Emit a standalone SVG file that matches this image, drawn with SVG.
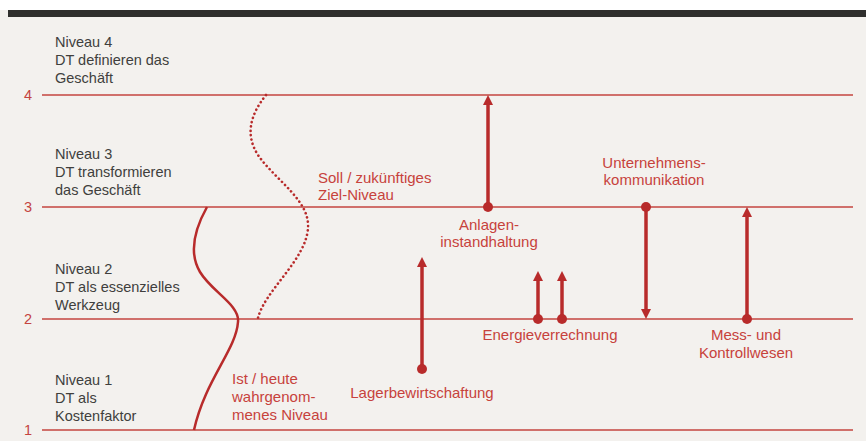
<svg xmlns="http://www.w3.org/2000/svg" width="866" height="441" viewBox="0 0 866 441">
<defs>
<style>
.lvl{stroke:#c4443f;stroke-width:1.5;fill:none}
.num{font-family:"Liberation Sans",Arial,sans-serif;font-size:14.5px;fill:#c4443f}
.lab{font-family:"Liberation Sans",Arial,sans-serif;font-size:14.5px;fill:#403f3d}
.red{font-family:"Liberation Sans",Arial,sans-serif;font-size:15px;fill:#c7423c}
.arr{stroke:#b82b2b;stroke-width:3.5;fill:none}
.dot{fill:#b82b2b}
.mid{text-anchor:middle}
</style>
<marker id="ah" markerUnits="userSpaceOnUse" markerWidth="10" markerHeight="10" refX="0" refY="5" orient="auto" viewBox="0 0 10 10">
<path d="M0,0 L10,5 L0,10 z" fill="#b82b2b"/>
</marker>
</defs>
<rect x="0" y="0" width="866" height="441" fill="#f3f1ee"/>
<rect x="0" y="0" width="866" height="10" fill="#ffffff"/>
<rect x="8" y="10" width="858" height="7" fill="#2f2f2d"/>

<g id="levels">
<line class="lvl" x1="42" y1="95" x2="853" y2="95"/>
<line class="lvl" x1="42" y1="207" x2="853" y2="207"/>
<line class="lvl" x1="42" y1="319" x2="853" y2="319"/>
<line class="lvl" x1="42" y1="430" x2="853" y2="430"/>
<text class="num" x="24" y="100">4</text>
<text class="num" x="24" y="212">3</text>
<text class="num" x="24" y="324">2</text>
<text class="num" x="24" y="435">1</text>
</g>

<g id="niveau4"><text class="lab" x="55" y="47">Niveau 4</text><text class="lab" x="55" y="65">DT definieren das</text><text class="lab" x="55" y="83">Geschäft</text></g>
<g id="niveau3"><text class="lab" x="55" y="159">Niveau 3</text><text class="lab" x="55" y="177">DT transformieren</text><text class="lab" x="55" y="195">das Geschäft</text></g>
<g id="niveau2"><text class="lab" x="55" y="274">Niveau 2</text><text class="lab" x="55" y="292">DT als essenzielles</text><text class="lab" x="55" y="310">Werkzeug</text></g>
<g id="niveau1"><text class="lab" x="55" y="385">Niveau 1</text><text class="lab" x="55" y="403">DT als</text><text class="lab" x="55" y="421">Kostenfaktor</text></g>

<g id="ist">
<path d="M207,207 C193,232 190,255 200,272 C212,292 240,305 238,322 C236,350 205,380 194,430" stroke="#b82b2b" stroke-width="2.5" fill="none"/>
<text class="red" x="232" y="384">Ist / heute</text><text class="red" x="232" y="402">wahrgenom-</text><text class="red" x="232" y="420">menes Niveau</text>
</g>

<g id="soll">
<path d="M266,95 C250,115 245,135 258,155 C275,180 310,200 308,228 C306,260 265,290 258,318" stroke="#b82b2b" stroke-width="2.6" fill="none" stroke-dasharray="0.1 4.3" stroke-linecap="round"/>
<text class="red" x="318" y="183">Soll / zukünftiges</text><text class="red" x="318" y="200">Ziel-Niveau</text>
</g>

<g id="connectors">
<line class="arr" x1="488" y1="207" x2="488" y2="105" marker-end="url(#ah)"/>
<line class="arr" x1="422" y1="369" x2="422" y2="267" marker-end="url(#ah)"/>
<line class="arr" x1="538" y1="319" x2="538" y2="281" marker-end="url(#ah)"/>
<line class="arr" x1="562" y1="319" x2="562" y2="281" marker-end="url(#ah)"/>
<line class="arr" x1="646" y1="207" x2="646" y2="309" marker-end="url(#ah)"/>
<line class="arr" x1="747" y1="319" x2="747" y2="217" marker-end="url(#ah)"/>
</g>

<g id="anlagen"><circle class="dot" cx="488" cy="207" r="5"/><text class="red mid" x="489" y="230">Anlagen-</text><text class="red mid" x="489" y="247">instandhaltung</text></g>
<g id="lager"><circle class="dot" cx="422" cy="369" r="5"/><text class="red mid" x="422" y="398">Lagerbewirtschaftung</text></g>
<g id="energie"><circle class="dot" cx="538" cy="319" r="5"/><circle class="dot" cx="562" cy="319" r="5"/><text class="red mid" x="550" y="340">Energieverrechnung</text></g>
<g id="unternehmen"><circle class="dot" cx="646" cy="207" r="5"/><text class="red mid" x="654" y="168">Unternehmens-</text><text class="red mid" x="654" y="185">kommunikation</text></g>
<g id="mess"><circle class="dot" cx="747" cy="319" r="5"/><text class="red mid" x="746" y="340">Mess- und</text><text class="red mid" x="746" y="358">Kontrollwesen</text></g>
</svg>
